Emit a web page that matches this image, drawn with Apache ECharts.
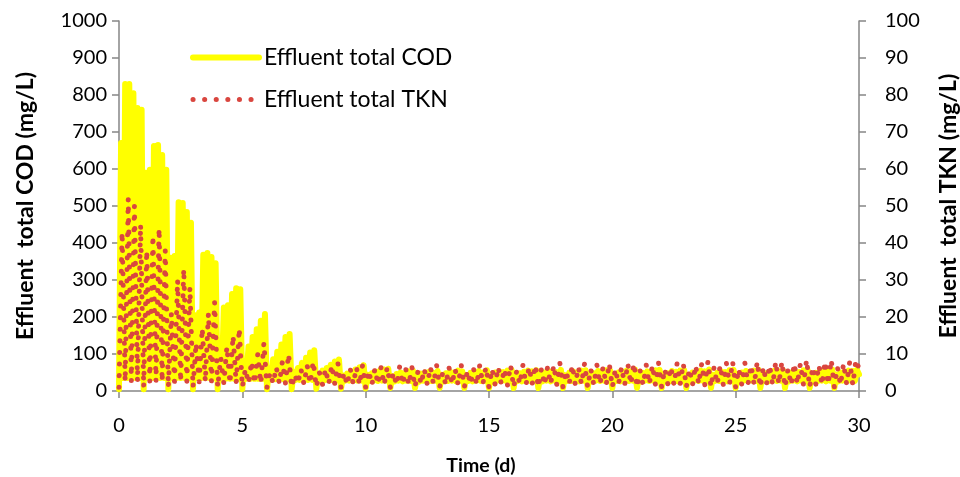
<!DOCTYPE html>
<html><head><meta charset="utf-8">
<script src="https://cdn.jsdelivr.net/npm/echarts@6/dist/echarts.min.js"></script>
<style>html,body{margin:0;padding:0;background:#fff}#c{width:960px;height:477px}</style>
</head><body><div id="c"></div>
<script>
// Time grid (days) — samples per day for each series
const codPerDay = 12;
const tknPerDay = 8;

// Effluent total COD (mg/L), days 0–9, 12 samples per day
const codEarly = [
  5,670,35,830,35,830,35,805,35,765,35,760,
  5,590,35,598,35,662,35,665,35,638,35,598,
  5,360,35,365,35,510,35,508,35,484,35,455,
  5,205,35,212,35,368,35,373,35,362,35,345,
  5,130,33,226,33,232,33,262,33,278,33,275,
  5,82,33,120,33,146,33,167,33,190,33,208,
  5,60,32,86,32,106,32,126,32,146,32,154,
  5,52,30,62,30,76,30,90,30,104,30,110,
  6,45,29,55,29,62,29,71,29,80,29,85,
  6,42,28,47,28,52,28,58,28,64,28,70
];
// Effluent total COD (mg/L), days 10–30
const codLate = [
  7,44,27,48,28,52,27,55,28,58,28,60,
  8,40,26,46,28,50,26,48,28,53,27,55,
  8,42,25,47,28,50,26,52,27,49,28,54,
  8,44,26,48,27,52,28,50,26,55,28,53,
  8,43,27,49,26,51,28,54,27,50,28,56,
  8,45,26,50,28,53,27,51,28,55,27,57,
  8,42,27,48,26,52,28,55,27,53,28,56,
  8,44,26,50,28,52,26,54,28,51,27,57,
  8,43,27,49,27,53,28,50,26,55,28,56,
  8,45,26,48,28,54,27,52,28,56,27,55,
  8,44,27,50,26,52,28,55,27,53,28,58,
  8,42,26,49,28,53,27,51,28,56,27,57,
  8,45,27,48,26,54,28,52,26,55,28,56,
  8,43,26,50,28,52,27,55,28,53,27,58,
  8,44,27,49,27,53,28,51,26,56,28,57,
  8,45,26,50,28,54,27,52,28,55,27,58,
  8,43,27,48,26,52,28,55,27,53,28,56,
  8,44,26,50,28,53,26,51,28,56,27,57,
  8,42,27,49,27,54,28,52,26,55,28,58,
  8,45,26,50,28,52,27,55,28,54,27,57,
  45
];
// Effluent total TKN (mg/L), days 0–9, 8 samples per day
const tknEarly = [
  1,43,2.5,52,2.5,50,2.5,45,
  1,38,2.5,42,2.5,44,2.5,38,
  1,21,2.5,30,2.5,33,2.5,28,
  1,13,2.5,17,2.5,21,2.5,24,
  1,9,2,12,2,15,2,17,
  1,6,2,8,2,10,2,13,
  1,5,2,6.5,2,8,2,10,
  1,4.5,2,6,1.8,7,2,8,
  1,5,1.8,6,1.8,7,1.8,7.5,
  1,5,1.6,6,1.8,6.5,1.6,7
];
// Effluent total TKN (mg/L), days 10–30
const tknLate = [
  1,5.5,1.6,6,1.8,6.5,1.6,6.5,
  1,5,1.6,6.5,1.8,6,1.6,6.5,
  1,5.5,1.8,6,1.6,6.5,1.8,7,
  1,5,1.6,6.5,1.8,6,1.6,7,
  1,5.5,1.8,6,1.6,7,1.8,6.5,
  1,6,1.6,6.5,1.8,6,1.6,7,
  1,5.5,1.8,7,1.6,6.5,1.8,7,
  1,6,1.6,6.5,1.8,7,1.6,7.5,
  1,5.5,1.8,7,1.6,6.5,1.8,7.5,
  1,6,1.6,7,1.8,6.5,1.6,7.5,
  1,6,1.8,6.5,1.6,7.5,1.8,7.5,
  1,5.5,1.6,7,1.8,7,1.6,7.5,
  1,6,1.8,6.5,1.6,7.5,1.8,7.5,
  1,6,1.6,7,1.8,7.5,1.6,8,
  1,6.5,1.8,7,1.6,7.5,1.8,8,
  1,6,1.6,7.5,1.8,7,1.6,8,
  1,6.5,1.8,7,1.6,8,1.8,8,
  1,6,1.6,7.5,1.8,7.5,1.6,8.5,
  1,6.5,1.8,7,1.6,8,1.8,8.5,
  1,6.5,1.6,7.5,1.8,8,1.6,8.5,
  6
];

const codValues = codEarly.concat(codLate);
const tknValues = tknEarly.concat(tknLate);
const codData = codValues.map((v, i) => [i / codPerDay, v]);
const tknData = tknValues.map((v, i) => [i / tknPerDay, v]);

const FONT = 'Lato';
const axisLine = { show: true, lineStyle: { color: '#868686', width: 1.5 } };
const axisTick = { show: true, inside: false, length: 7, lineStyle: { color: '#868686', width: 1.5 } };
const labelStyle = { color: '#000', fontFamily: FONT, fontSize: 20, formatter: v => String(v) };
const nameStyle = { color: '#000', fontFamily: FONT, fontSize: 23, fontWeight: 'bold' };

const chart = echarts.init(document.getElementById('c'), null, { renderer: 'canvas' });
chart.setOption({
  animation: false,
  backgroundColor: '#fff',
  grid: { left: 119, right: 101, top: 21, bottom: 86, containLabel: false, outerBoundsMode: 'none' },
  legend: {
    orient: 'vertical', left: 190, top: 46, padding: 0, itemWidth: 66, itemHeight: 14, itemGap: 19,
    textStyle: { color: '#000', fontFamily: FONT, fontSize: 23 },
    data: [
      { name: 'Effluent total COD', lineStyle: { width: 6 }, itemStyle: { opacity: 0, color: 'rgba(0,0,0,0)', borderWidth: 0 } },
      { name: 'Effluent total TKN', lineStyle: { width: 5 }, itemStyle: { opacity: 0, color: 'rgba(0,0,0,0)', borderWidth: 0 } }
    ]
  },
  xAxis: {
    type: 'value', min: 0, max: 30, interval: 5,
    name: 'Time (d)', nameLocation: 'middle', nameGap: 65,
    nameTextStyle: Object.assign({}, nameStyle, { fontSize: 19.5, padding: [0, 16, 0, 0] }),
    axisLine, axisTick, splitLine: { show: false },
    axisLabel: Object.assign({ margin: 25 }, labelStyle)
  },
  yAxis: [
    {
      type: 'value', min: 0, max: 1000, interval: 100, position: 'left',
      name: 'Effluent  total COD (mg/L)', nameLocation: 'middle', nameRotate: 90, nameGap: 82,
      nameTextStyle: nameStyle,
      axisLine, axisTick, splitLine: { show: false },
      axisLabel: Object.assign({ margin: 12 }, labelStyle)
    },
    {
      type: 'value', min: 0, max: 100, interval: 10, position: 'right',
      name: 'Effluent  total TKN (mg/L)', nameLocation: 'middle', nameRotate: 90, nameGap: 78,
      nameTextStyle: nameStyle,
      axisLine, axisTick, splitLine: { show: false },
      axisLabel: Object.assign({ margin: 26 }, labelStyle)
    }
  ],
  series: [
    {
      name: 'Effluent total COD', type: 'line', yAxisIndex: 0, data: codData,
      symbol: 'none', clip: false,
      itemStyle: { color: '#FFFF00' },
      lineStyle: { color: '#FFFF00', width: 6, join: 'round', cap: 'round' }
    },
    {
      name: 'Effluent total TKN', type: 'line', yAxisIndex: 1, data: tknData,
      symbol: 'none', clip: false,
      itemStyle: { color: '#D9463F' },
      lineStyle: { color: '#D9463F', width: 5, type: [0.1, 11.5], cap: 'round', join: 'round' }
    }
  ]
});
</script>
</body></html>
